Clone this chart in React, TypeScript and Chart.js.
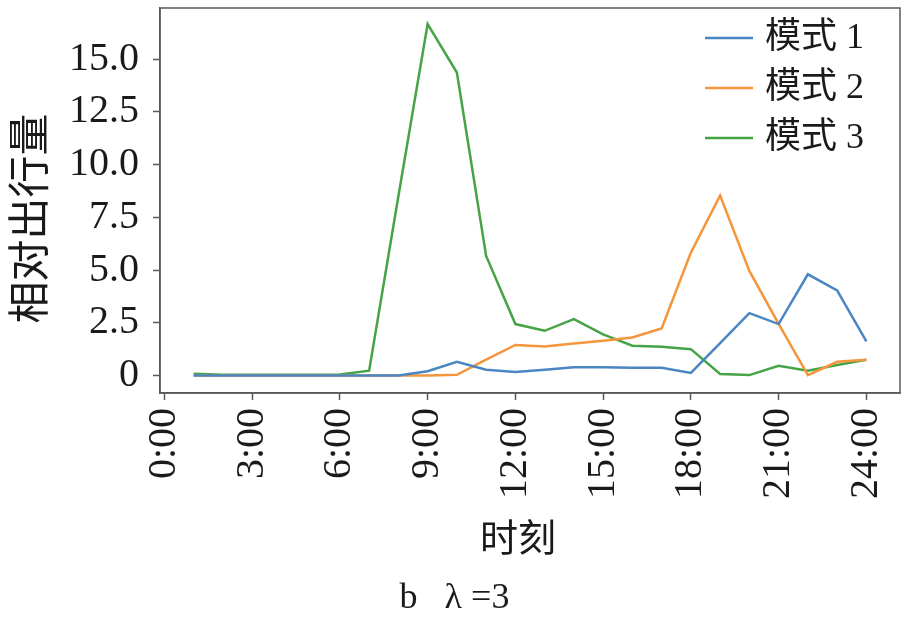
import React, { useEffect, useRef } from "react";
import { Chart, registerables } from "chart.js";

Chart.register(...registerables);

const hours = [1, 2, 3, 4, 5, 6, 7, 8, 9, 10, 11, 12, 13, 14, 15, 16, 17, 18, 19, 20, 21, 22, 23, 24];
const mode1 = [0, 0, 0, 0, 0, 0, 0, 0, 0.2, 0.65, 0.27, 0.17, 0.27, 0.39, 0.39, 0.37, 0.37, 0.12, 1.54, 2.96, 2.44, 4.8, 4.04, 1.62];
const mode2 = [0, 0, 0, 0, 0, 0, 0, 0, 0, 0.03, 0.75, 1.45, 1.38, 1.52, 1.65, 1.8, 2.23, 5.83, 8.54, 4.96, 2.45, 0.02, 0.65, 0.75];
const mode3 = [0.08, 0.03, 0.03, 0.03, 0.03, 0.05, 0.23, 8.5, 16.67, 14.37, 5.67, 2.44, 2.12, 2.67, 1.95, 1.41, 1.36, 1.25, 0.07, 0.02, 0.46, 0.23, 0.5, 0.75];
const seriesLabels = ["模式 1", "模式 2", "模式 3"];
const seriesColors = ["#4a86c2", "#f5953c", "#46a446"];
const xTickHours = [0, 3, 6, 9, 12, 15, 18, 21, 24];
const yTickValues = [0, 2.5, 5, 7.5, 10, 12.5, 15];
const xTitle = "时刻";
const yTitle = "相对出行量";
const caption = "b   λ =3";

const SERIF = "'Liberation Serif', 'Noto Sans CJK SC', serif";
const CJK = "'Noto Sans CJK SC', sans-serif";
const FRAME = "#5a5a5a";

export default function App() {
  const ref = useRef<HTMLCanvasElement | null>(null);

  useEffect(() => {
    if (!ref.current) return;
    const series = [mode1, mode2, mode3];

    const decor = {
      id: "decor",
      afterDraw(chart: any) {
        const { ctx, chartArea } = chart;
        const { left, right, top, bottom } = chartArea;
        ctx.save();
        ctx.strokeStyle = FRAME;
        ctx.lineWidth = 1.5;
        ctx.strokeRect(left, top, right - left, bottom - top);
        chart.data.datasets.forEach((ds: any, i: number) => {
          const y = top + 30 + i * 50;
          ctx.strokeStyle = ds.borderColor;
          ctx.lineWidth = 2.5;
          ctx.beginPath();
          ctx.moveTo(right - 195, y);
          ctx.lineTo(right - 147, y);
          ctx.stroke();
          ctx.fillStyle = "#1a1a1a";
          ctx.font = `36px ${SERIF}`;
          ctx.textAlign = "left";
          ctx.textBaseline = "middle";
          ctx.fillText(ds.label, right - 135, y + 1);
        });
        ctx.fillStyle = "#1a1a1a";
        ctx.font = `42px ${CJK}`;
        ctx.textAlign = "center";
        ctx.textBaseline = "middle";
        ctx.save();
        ctx.translate(28, (top + bottom) / 2 + 18);
        ctx.rotate(-Math.PI / 2);
        ctx.fillText(yTitle, 0, 0);
        ctx.restore();
        ctx.font = `38px ${CJK}`;
        ctx.fillText(xTitle, (left + right) / 2 - 12, 537);
        ctx.font = `36px ${SERIF}`;
        ctx.fillText(caption, chart.width / 2, 599);
        ctx.restore();
      },
    };

    const chart = new Chart(ref.current, {
      type: "line",
      data: {
        datasets: series.map((vals, i) => ({
          label: seriesLabels[i],
          data: hours.map((h, j) => ({ x: h, y: vals[j] })),
          borderColor: seriesColors[i],
          backgroundColor: seriesColors[i],
          borderWidth: 2.5,
          pointRadius: 0,
          tension: 0,
          fill: false,
        })),
      },
      options: {
        animation: false,
        responsive: false,
        devicePixelRatio: 1,
        layout: { padding: { top: 8, right: 9, left: 0, bottom: 0 } },
        plugins: {
          legend: { display: false },
          tooltip: { enabled: false },
          title: { display: false },
        },
        scales: {
          x: {
            type: "linear",
            min: -0.15,
            max: 25.15,
            afterFit(scale: any) {
              scale.height = 631 - 393;
              scale.paddingLeft = 0;
              scale.paddingRight = 0;
              scale.paddingTop = 0;
              scale.paddingBottom = 0;
            },
            afterBuildTicks(scale: any) {
              scale.ticks = xTickHours.map((v) => ({ value: v }));
            },
            ticks: {
              autoSkip: false,
              minRotation: 90,
              maxRotation: 90,
              padding: 8,
              color: "#1a1a1a",
              font: { family: SERIF, size: 40 },
              callback: (v: any) => `${v}:00`,
            },
            grid: {
              display: true,
              drawOnChartArea: false,
              drawTicks: true,
              tickLength: 7,
              tickWidth: 1.5,
              tickColor: FRAME,
            },
            border: { display: true, color: FRAME, width: 1.5 },
          },
          y: {
            type: "linear",
            min: -0.83,
            max: 17.43,
            afterFit(scale: any) {
              scale.width = 160;
              scale.paddingLeft = 0;
              scale.paddingRight = 0;
              scale.paddingTop = 0;
              scale.paddingBottom = 0;
            },
            afterBuildTicks(scale: any) {
              scale.ticks = yTickValues.map((v) => ({ value: v }));
            },
            ticks: {
              padding: 14,
              color: "#1a1a1a",
              font: { family: SERIF, size: 40 },
              callback: (v: any) => (v === 0 ? "0" : Number(v).toFixed(1)),
            },
            grid: {
              display: true,
              drawOnChartArea: false,
              drawTicks: true,
              tickLength: 7,
              tickWidth: 1.5,
              tickColor: FRAME,
            },
            border: { display: true, color: FRAME, width: 1.5 },
          },
        },
      },
      plugins: [decor],
    });
    return () => chart.destroy();
  }, []);

  return (
    <div style={{ position: "fixed", left: 0, top: 0, width: 909, height: 631, background: "#fff" }}>
      <canvas ref={ref} width={909} height={631} style={{ display: "block", width: 909, height: 631 }} />
    </div>
  );
}
